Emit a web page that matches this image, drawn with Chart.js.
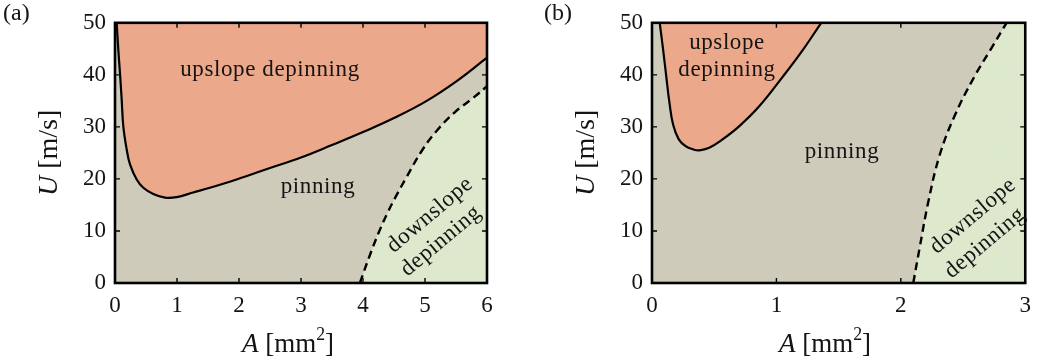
<!DOCTYPE html>
<html>
<head>
<meta charset="utf-8">
<script src="https://cdn.jsdelivr.net/npm/chart.js@4.4.1/dist/chart.umd.min.js"></script>
<style>
  html, body { margin: 0; padding: 0; background: #ffffff; }
  #wrap { position: relative; width: 1040px; height: 364px; }
  canvas { position: absolute; top: 0; }
</style>
</head>
<body>
<div id="wrap">
  <canvas id="panelA" width="520" height="364" style="left:0px"></canvas>
  <canvas id="panelB" width="520" height="364" style="left:520px"></canvas>
</div>
<script>
// ---- Panel (a): boundaries in the (A, U) plane ----
const upA_A   = [0.027, 0.054, 0.081, 0.108, 0.134, 0.188, 0.242, 0.35, 0.457, 0.618, 0.806, 0.995, 1.26, 1.53, 1.96, 2.50, 3.00, 3.50, 4.00, 4.50, 5.00, 5.50, 6.00];
const upA_U   = [50.0, 44.7, 40.2, 35.2, 30.1, 25.7, 22.8, 19.9, 18.3, 17.1, 16.4, 16.5, 17.4, 18.3, 19.9, 22.1, 24.1, 26.5, 29.0, 31.7, 34.8, 38.7, 43.3];
const downA_A = [3.95, 4.10, 4.25, 4.40, 4.52, 4.70, 4.97, 5.20, 5.48, 5.78, 6.00];
const downA_U = [0.0, 5.0, 9.6, 13.6, 16.4, 20.3, 25.8, 29.4, 32.8, 35.6, 37.8];

// ---- Panel (b) ----
const upB_A   = [0.062, 0.090, 0.115, 0.141, 0.170, 0.215, 0.270, 0.328, 0.38, 0.46, 0.567, 0.70, 0.86, 1.05, 1.21, 1.36];
const upB_U   = [50.0, 44.7, 39.6, 34.5, 30.4, 27.6, 26.3, 25.7, 25.5, 26.0, 27.6, 30.1, 33.9, 39.6, 44.7, 50.0];
const downB_A = [2.10, 2.15, 2.22, 2.31, 2.43, 2.59, 2.72, 2.85];
const downB_U = [0.0, 6.6, 15.5, 24.4, 32.0, 39.6, 44.8, 50.0];
// strip of the downslope region right of the dashed curve's top end
const cornerB_A = [2.84, 3.00];
const cornerB_U = [50.0, 50.0];

// ---- axes ----
const xTicksA = [0, 1, 2, 3, 4, 5, 6];
const xTicksB = [0, 1, 2, 3];
const yTicks  = [0, 10, 20, 30, 40, 50];

const COL_UP = '#eba88b';
const COL_PIN = '#cecbbb';
const COL_DOWN = '#dde8cc';
const INK = '#141414';
const SERIF = '"Liberation Serif", "DejaVu Serif", serif';

const pts = (xs, ys) => xs.map((x, i) => ({ x: x, y: ys[i] }));

function measureRich(ctx, parts, size) {
  let w = 0;
  for (const p of parts) {
    const fs = p.sup ? size * 0.66 : size;
    ctx.font = (p.italic ? 'italic ' : '') + fs + 'px ' + SERIF;
    w += ctx.measureText(p.t).width;
  }
  return w;
}
function paintRich(ctx, parts, size, x, y) {
  let cx = x;
  for (const p of parts) {
    const fs = p.sup ? size * 0.66 : size;
    ctx.font = (p.italic ? 'italic ' : '') + fs + 'px ' + SERIF;
    ctx.fillText(p.t, cx, p.sup ? y - size * 0.45 : y);
    cx += ctx.measureText(p.t).width;
  }
}

const frame = {
  id: 'frame',
  beforeDatasetsDraw(chart) {
    const a = chart.chartArea, ctx = chart.ctx;
    ctx.save();
    ctx.fillStyle = COL_PIN;
    ctx.fillRect(a.left, a.top, a.right - a.left, a.bottom - a.top);
    ctx.restore();
  },
  afterDatasetsDraw(chart, args, o) {
    const a = chart.chartArea, ctx = chart.ctx;
    const xs = chart.scales.x, ys = chart.scales.y;
    ctx.save();
    ctx.strokeStyle = '#000';
    ctx.lineWidth = 1.4;
    ctx.beginPath();
    for (const v of o.xTicks) {
      const px = xs.getPixelForValue(v);
      ctx.moveTo(px, a.bottom); ctx.lineTo(px, a.bottom - 5);
      ctx.moveTo(px, a.top); ctx.lineTo(px, a.top + 5);
    }
    for (const v of o.yTicks) {
      const py = ys.getPixelForValue(v);
      ctx.moveTo(a.left, py); ctx.lineTo(a.left + 5, py);
      ctx.moveTo(a.right, py); ctx.lineTo(a.right - 5, py);
    }
    ctx.stroke();
    ctx.lineWidth = 2.6;
    ctx.strokeRect(a.left, a.top, a.right - a.left, a.bottom - a.top);
    ctx.restore();
  },
  afterDraw(chart, args, o) {
    const ctx = chart.ctx, a = chart.chartArea;
    ctx.save();
    ctx.fillStyle = INK;
    ctx.textBaseline = 'alphabetic';
    // panel letter
    ctx.font = '24px ' + SERIF;
    ctx.textAlign = 'left';
    ctx.fillText(o.letter, o.letterX, 20);
    // x-axis title
    const xt = [{ t: 'A', italic: true }, { t: ' [mm' }, { t: '2', sup: true }, { t: ']' }];
    const xw = measureRich(ctx, xt, 27);
    paintRich(ctx, xt, 27, o.xTitleCenter - xw / 2, 352);
    // y-axis title, rotated
    const yt = [{ t: 'U', italic: true }, { t: ' [m/s]' }];
    const yw = measureRich(ctx, yt, 28);
    ctx.translate(o.yTitleX, (a.top + a.bottom) / 2);
    ctx.rotate(-Math.PI / 2);
    paintRich(ctx, yt, 28, -yw / 2, 0);
    ctx.restore();
    // region labels
    ctx.save();
    ctx.fillStyle = INK;
    ctx.font = '23px ' + SERIF;
    ctx.letterSpacing = '0.6px';
    ctx.textAlign = 'center';
    ctx.textBaseline = 'middle';
    for (const l of o.labels) {
      ctx.save();
      ctx.translate(l.x, l.y);
      ctx.rotate((l.rot || 0) * Math.PI / 180);
      ctx.fillText(l.t, 0, 0);
      ctx.restore();
    }
    ctx.restore();
  }
};

function makePanel(id, cfg) {
  const tickFont = { family: SERIF, size: 23 };
  return new Chart(document.getElementById(id), {
    type: 'line',
    data: { datasets: cfg.datasets },
    options: {
      responsive: false,
      animation: false,
      devicePixelRatio: 1,
      layout: { padding: { left: 0, top: 21, right: cfg.rightPad, bottom: 0 } },
      elements: { point: { radius: 0 } },
      scales: {
        x: {
          type: 'linear', min: 0, max: cfg.xMax,
          grid: { display: false, drawTicks: false },
          border: { display: false },
          ticks: { stepSize: 1, font: tickFont, color: INK, padding: 9, maxRotation: 0 },
          afterFit(s) { s.height = 81; }
        },
        y: {
          type: 'linear', min: 0, max: 50,
          grid: { display: false, drawTicks: false },
          border: { display: false },
          ticks: { stepSize: 10, font: tickFont, color: INK, padding: 9 },
          afterFit(s) { s.width = cfg.yWidth; }
        }
      },
      plugins: {
        legend: { display: false },
        tooltip: { enabled: false },
        frame: cfg.frame
      }
    },
    plugins: [frame]
  });
}

const solid = (d) => ({ data: d, borderColor: '#000', borderWidth: 2.2, fill: 'end',
  backgroundColor: COL_UP, tension: 0.4 });
const dashed = (d) => ({ data: d, borderColor: '#000', borderWidth: 2.4, borderDash: [8, 5],
  fill: 'start', backgroundColor: COL_DOWN, tension: 0.4 });

makePanel('panelA', {
  xMax: 6, yWidth: 115, rightPad: 33,
  datasets: [solid(pts(upA_A, upA_U)), dashed(pts(downA_A, downA_U))],
  frame: {
    xTicks: xTicksA, yTicks: yTicks, letter: '(a)', letterX: 3,
    xTitleCenter: 288, yTitleX: 57,
    labels: [
      { t: 'upslope depinning', x: 270, y: 70 },
      { t: 'pinning', x: 318, y: 187 },
      { t: 'downslope', x: 430, y: 215, rot: -40 },
      { t: 'depinning', x: 441, y: 241, rot: -40 }
    ]
  }
});

makePanel('panelB', {
  xMax: 3, yWidth: 132, rightPad: 12,
  datasets: [
    solid(pts(upB_A, upB_U)),
    dashed(pts(downB_A, downB_U)),
    { data: pts(cornerB_A, cornerB_U), borderWidth: 0, fill: 'start', backgroundColor: COL_DOWN }
  ],
  frame: {
    xTicks: xTicksB, yTicks: yTicks, letter: '(b)', letterX: 24,
    xTitleCenter: 305, yTitleX: 74,
    labels: [
      { t: 'upslope', x: 207, y: 43 },
      { t: 'depinning', x: 207, y: 70 },
      { t: 'pinning', x: 322, y: 152 },
      { t: 'downslope', x: 453, y: 216, rot: -40 },
      { t: 'depinning', x: 465, y: 243, rot: -40 }
    ]
  }
});
</script>
</body>
</html>
